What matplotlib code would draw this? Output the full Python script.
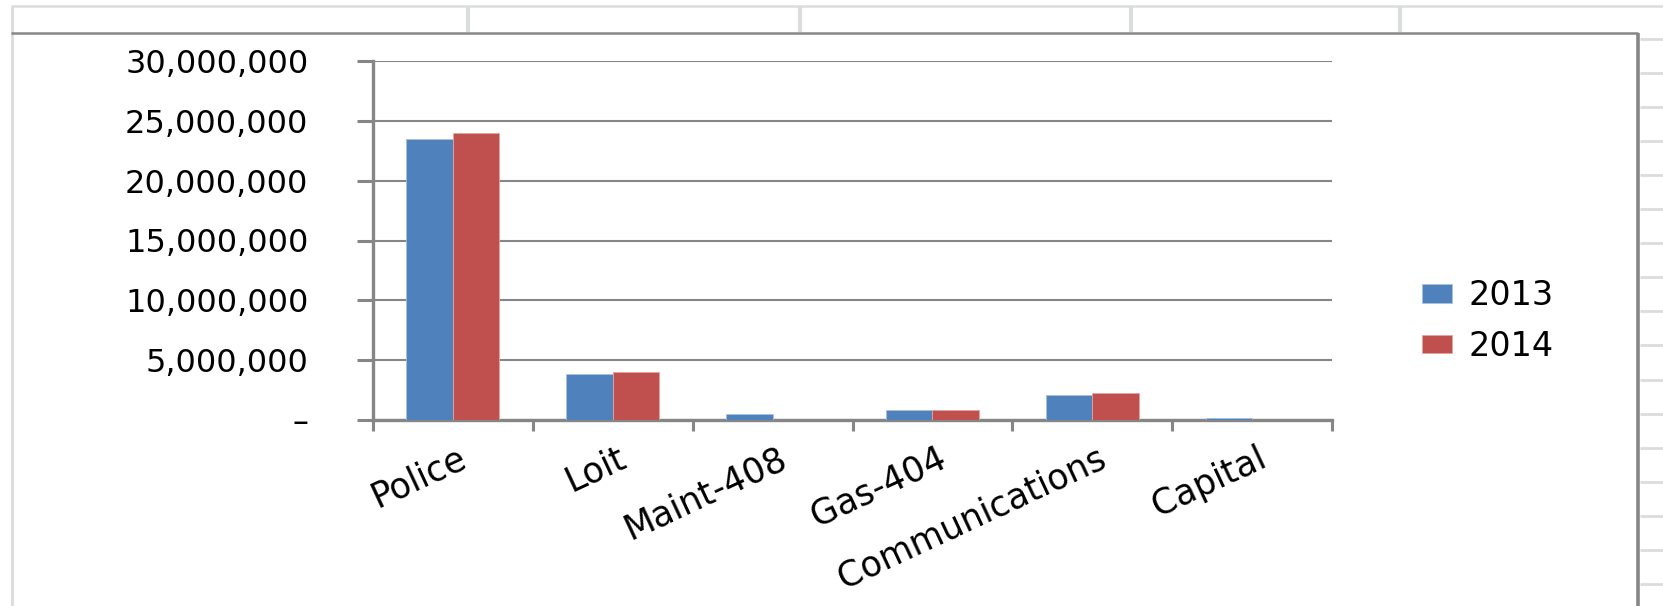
import numpy as np
import matplotlib
matplotlib.use('Agg')
import matplotlib.pyplot as plt
from matplotlib.ticker import FuncFormatter
from matplotlib.transforms import offset_copy

categories = ['Police', 'Loit', 'Maint-408', 'Gas-404', 'Communications', 'Capital']
years = ['2013', '2014']
values_2013 = [23_500_000, 3_870_000, 500_000, 800_000, 2_110_000, 150_000]
values_2014 = [24_000_000, 4_010_000, 0, 800_000, 2_280_000, 0]
y_ticks = [0, 5_000_000, 10_000_000, 15_000_000, 20_000_000, 25_000_000, 30_000_000]

W, H = 1663, 606
blue = '#4F81BD'
red = '#C0504D'
light = '#DADCDD'
grey = '#868686'

fig = plt.figure(figsize=(W / 100, H / 100), dpi=100)

# spreadsheet cells behind the chart (pixel coords)
bg = fig.add_axes([0, 0, 1, 1], zorder=0)
bg.set_xlim(0, W)
bg.set_ylim(H, 0)
bg.axis('off')
bg.plot([11, W], [6, 6], color=light, lw=1.8, solid_capstyle='butt')
for xc in [468, 800, 1131, 1400]:
    bg.plot([xc, xc], [6, 32], color=light, lw=3, solid_capstyle='butt')
bg.plot([12, 12], [6, H], color=light, lw=2, solid_capstyle='butt')
for yr in np.arange(39, H, 34.05):
    bg.plot([1640, W], [yr, yr], color=light, lw=2, solid_capstyle='butt')
# chart frame
bg.plot([11, 1638], [33, 33], color=grey, lw=1.8, solid_capstyle='butt')
bg.plot([1638, 1638], [33, H], color=grey, lw=2.6, solid_capstyle='butt')

ax = fig.add_axes([373 / W, 1 - 420 / H, (1332 - 373) / W, (420 - 61) / H], zorder=1)
ax.patch.set_alpha(0)

x = np.arange(len(categories)) + 0.5
bw = 0.291
b1 = ax.bar(x - bw / 2, values_2013, bw, color=blue, edgecolor='#A9C0DE', lw=0.6, zorder=3)
b2 = ax.bar(x + bw / 2, values_2014, bw, color=red, edgecolor='#E3A3A1', lw=0.6, zorder=3)

ax.set_xlim(0, len(categories))
ax.set_ylim(0, 30_000_000)
ax.set_yticks(y_ticks)
ax.yaxis.set_major_formatter(FuncFormatter(lambda v, p: '–' if v == 0 else f'{v:,.0f}'))
ax.yaxis.grid(True, color=grey, lw=1.5)
ax.set_axisbelow(True)

for s in ['top', 'right']:
    ax.spines[s].set_visible(False)
for s in ['left', 'bottom']:
    ax.spines[s].set_color(grey)
    ax.spines[s].set_linewidth(2.4)

ax.set_xticks(np.arange(len(categories) + 1))
ax.set_xticklabels([])
ax.tick_params(axis='x', length=8, width=2.2, color=grey)
ax.tick_params(axis='y', length=11.5, width=2.2, color=grey, pad=35, labelsize=23)

trans = offset_copy(ax.get_xaxis_transform(), fig=fig, x=12, y=-36, units='dots')
for xc, name in zip(x, categories):
    ax.text(xc, 0, name, transform=trans, rotation=25, rotation_mode='anchor',
            ha='right', va='center', fontsize=25)

fig.legend(handles=[b1, b2], labels=years, loc='center left',
           bbox_to_anchor=(1422 / W, 1 - 321 / H), frameon=False, fontsize=24,
           handlelength=0.9, handleheight=0.48, handletextpad=0.5,
           labelspacing=0.53, borderpad=0, borderaxespad=0)

fig.savefig('out.png', dpi=100, facecolor='white')
